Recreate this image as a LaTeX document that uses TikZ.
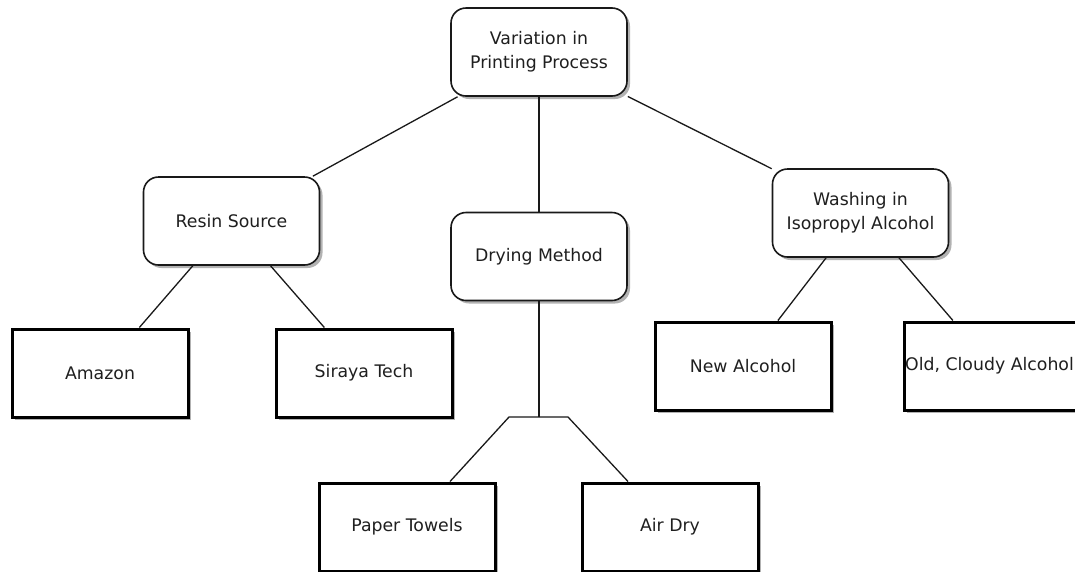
\documentclass[tikz,border=0pt]{standalone}
\usepackage{fontspec}
\setmainfont{DejaVu Sans}
\usetikzlibrary{shadows}
\tikzset{
  base/.style={minimum width=176pt, minimum height=88pt, align=center, fill=white,
    font=\fontsize{17.3pt}{24pt}\selectfont, text=black!88, inner sep=1pt,
    drop shadow={shadow xshift=3pt, shadow yshift=-3pt, fill=black!30, opacity=1}},
  roundbox/.style={base, draw=black!90, line width=1.6pt, rounded corners=15pt},
  leafbox/.style={base, draw=black, line width=3pt},
  conn/.style={draw=black!90, line width=1.3pt}
}
\begin{document}
\begin{tikzpicture}[x=1pt, y=-1pt]
\useasboundingbox (0,0) rectangle (1075,571);
\clip (0,0) rectangle (1075,571);
\node[roundbox] (top) at (539,52) {Variation in\\Printing Process};
\node[roundbox] (resin) at (231.5,221) {Resin Source};
\node[roundbox] (dry) at (539,256.5) {Drying Method};
\node[roundbox] (wash) at (860.5,213) {Washing in\\Isopropyl Alcohol};
\node[leafbox] (amazon) at (100,373) {Amazon};
\node[leafbox] (siraya) at (364,373) {Siraya Tech};
\node[leafbox] (newalc) at (743,366) {New Alcohol};
\node[leafbox] (oldalc) at (992,366) {\hspace*{-5pt}Old, Cloudy Alcohol};
\node[leafbox] (paper) at (407,527) {Paper Towels};
\node[leafbox] (air) at (670,527) {Air Dry};
\coordinate (j) at (539,417);
\path[conn] (top) -- (resin);
\path[conn] (top) -- (dry);
\path[conn] (top) -- (wash);
\path[conn] (resin) -- (amazon);
\path[conn] (resin) -- (siraya);
\path[conn] (wash) -- (newalc);
\path[conn] (wash) -- (oldalc);
\path[conn] (dry.south) -- (j);
\path[conn] (j) -- ++(-30,0) -- ([xshift=43pt]paper.north);
\path[conn] (j) -- ++(29,0) -- ([xshift=-42pt]air.north);
\end{tikzpicture}
\end{document}
